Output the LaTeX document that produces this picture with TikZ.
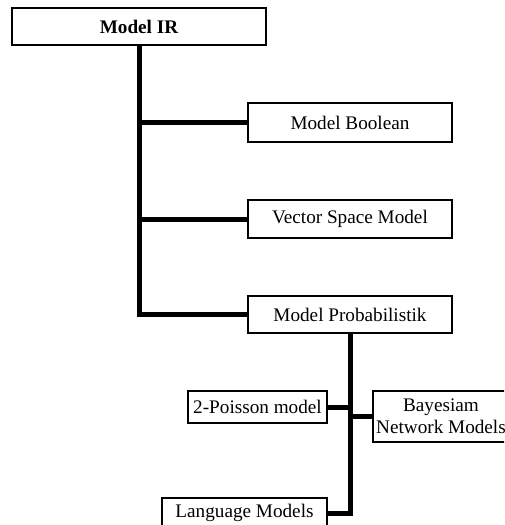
\documentclass[tikz,border=0pt]{standalone}
\usepackage{fontspec}
\setmainfont{Liberation Serif}
\begin{document}
\begin{tikzpicture}[x=1pt,y=-1pt,
  box/.style={draw, line width=1.2pt, inner sep=0pt, fill=white,
    font=\fontsize{19.2}{22}\selectfont, align=center},
  conn/.style={line width=5pt, line join=miter}]
\useasboundingbox (0,0) rectangle (504,525);
\clip (0,0) rectangle (504,525);
% nodes
\node[box, font=\fontsize{19.2}{22}\selectfont\bfseries, minimum width=254pt, minimum height=37pt] (ir) at (139,26.5) {Model IR};
\node[box, minimum width=204pt, minimum height=39pt] (bool) at (350,122.5) {Model Boolean};
\node[box, minimum width=204pt, minimum height=38pt] (vec) at (350,219) {Vector Space Model};
\node[box, minimum width=204pt, minimum height=37pt] (prob) at (350,314.5) {Model Probabilistik};
\node[box, minimum width=139pt, minimum height=32pt] (poi) at (257.5,407) {2-Poisson model};
\node[box, minimum width=136pt, minimum height=51pt] (bay) at (441,416.5) {Bayesiam\\Network Models};
\node[box, minimum width=165pt, minimum height=30pt] (lang) at (244.5,513) {Language Models};
% connectors
\draw[conn] (ir.south) -- (ir.south |- prob.west) -- (prob.west);
\draw[conn] (ir.south |- bool.west) -- (bool.west);
\draw[conn] (ir.south |- vec.west) -- (vec.west);
\draw[conn] (prob.south) -- (prob.south |- lang.east) -- (lang.east);
\draw[conn] (prob.south |- poi.east) -- (poi.east);
\draw[conn] (prob.south |- bay.west) -- (bay.west);
\end{tikzpicture}
\end{document}
